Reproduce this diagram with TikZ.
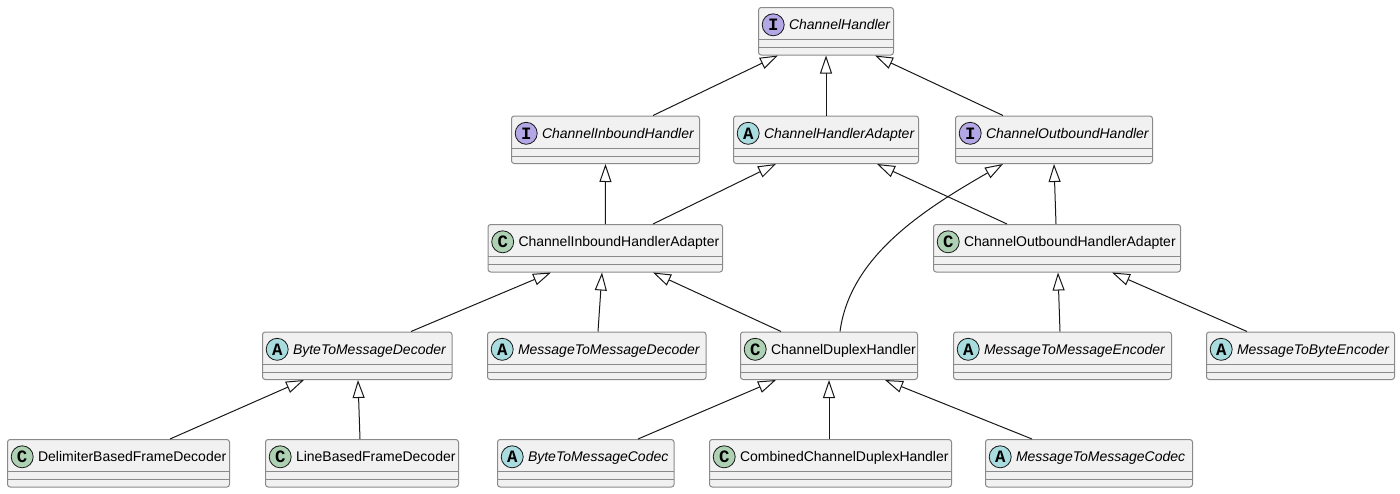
\documentclass[tikz,border=0pt]{standalone}
\usepackage{fontspec}
\setmainfont{Liberation Sans}
\newfontfamily\iconfont{Liberation Mono}
\usetikzlibrary{arrows.meta}
\definecolor{boxfill}{HTML}{F1F1F1}
\definecolor{boxline}{HTML}{8A8A8A}
\definecolor{edgeline}{HTML}{181818}
\definecolor{iconI}{HTML}{B4A7E5}
\definecolor{iconA}{HTML}{A9DCDF}
\definecolor{iconC}{HTML}{ADD1B2}
\newcommand{\upx}{0.75pt}
\tikzstyle{edgepath}=[draw=edgeline, line width=0.75pt, -{Triangle[length=13.5pt, width=9pt, fill=white]}]
\tikzset{
  classbox/.style n args={4}{draw=boxline, fill=boxfill, line width=0.75pt,
    rounded corners=2pt, anchor=north west, inner sep=0pt,
    minimum height=47.5*\upx, minimum width=#1*\upx,
    path picture={
      \draw[boxline, line width=0.75pt, sharp corners]
        ([yshift=-32*\upx]path picture bounding box.north west) -- ([yshift=-32*\upx]path picture bounding box.north east)
        ([yshift=-40*\upx]path picture bounding box.north west) -- ([yshift=-40*\upx]path picture bounding box.north east);
      \node[circle, anchor=center, draw=edgeline, line width=0.6pt, fill=#2,
        minimum width=0pt, minimum height=0pt, minimum size=22*\upx, inner sep=0pt,
        font=\iconfont\fontsize{13pt}{13pt}\selectfont\bfseries]
        at ([xshift=14.7*\upx, yshift=-17.3*\upx]path picture bounding box.north west) {#3};
      \node[anchor=base west, inner sep=0pt, minimum width=0pt, minimum height=0pt,
        font=\fontsize{10.5pt}{12pt}\selectfont]
        at ([xshift=30*\upx, yshift=-22.3*\upx]path picture bounding box.north west) {#4};
    }},
  iface/.style 2 args={classbox={#1}{iconI}{I}{\itshape #2}},
  abstr/.style 2 args={classbox={#1}{iconA}{A}{\itshape #2}},
  klass/.style 2 args={classbox={#1}{iconC}{C}{#2}}
}

\begin{document}
\begin{tikzpicture}[x=\upx, y=-\upx]
    \useasboundingbox (0,0) rectangle (1400,493);

    \node[iface={135}{ChannelHandler}] (ch) at (758,7) {};

    \node[iface={188}{ChannelInboundHandler}] (cih) at (511,115.5) {};
    \node[abstr={185}{ChannelHandlerAdapter}] (cha) at (733,115.5) {};
    \node[iface={197}{ChannelOutboundHandler}] (coh) at (955,115.5) {};

    \node[klass={234.5}{ChannelInboundHandlerAdapter}] (ciha) at (487.5,224) {};
    \node[klass={247}{ChannelOutboundHandlerAdapter}] (coha) at (933,224) {};

    \node[abstr={189.5}{ByteToMessageDecoder}] (btmd) at (262,331.5) {};
    \node[abstr={218.5}{MessageToMessageDecoder}] (mtmd) at (487,331.5) {};
    \node[klass={177}{ChannelDuplexHandler}] (cdh) at (740,331.5) {};
    \node[abstr={218}{MessageToMessageEncoder}] (mtme) at (953,331.5) {};
    \node[abstr={188}{MessageToByteEncoder}] (mtbe) at (1206,331.5) {};

    \node[klass={222}{DelimiterBasedFrameDecoder}] (dbfd) at (7,439) {};
    \node[klass={193}{LineBasedFrameDecoder}] (lbfd) at (265,439) {};
    \node[abstr={176.5}{ByteToMessageCodec}] (btmc) at (497,439) {};
    \node[klass={242}{CombinedChannelDuplexHandler}] (ccdh) at (709,439) {};
    \node[abstr={207}{MessageToMessageCodec}] (mtmc) at (985,439) {};

    \draw[edgepath] ([xshift=142*\upx]cih.north west) -- ([xshift=20*\upx]ch.south west);
    \draw[edgepath] (cha.north) -- ([xshift=68*\upx]ch.south west);
    \draw[edgepath] ([xshift=48*\upx]coh.north west) -- ([xshift=117*\upx]ch.south west);
    \draw[edgepath] (ciha.north) -- (cih.south);
    \draw[edgepath] ([xshift=165.5*\upx]ciha.north west) -- ([xshift=43*\upx]cha.south west);
    \draw[edgepath] ([xshift=74*\upx]coha.north west) -- ([xshift=144*\upx]cha.south west);
    \draw[edgepath] ([xshift=123*\upx]coha.north west) -- ([xshift=99*\upx]coh.south west);
    \draw[edgepath] ([xshift=149*\upx]btmd.north west) -- ([xshift=63.5*\upx]ciha.south west);
    \draw[edgepath] ([xshift=111*\upx]mtmd.north west) -- ([xshift=114.5*\upx]ciha.south west);
    \draw[edgepath] ([xshift=41*\upx]cdh.north west) -- ([xshift=165.5*\upx]ciha.south west);
    \draw[edgepath] ([xshift=107*\upx]mtme.north west) -- ([xshift=125*\upx]coha.south west);
    \draw[edgepath] ([xshift=41*\upx]mtbe.north west) -- ([xshift=179*\upx]coha.south west);
    \draw[edgepath] ([xshift=163*\upx]dbfd.north west) -- ([xshift=42*\upx]btmd.south west);
    \draw[edgepath] ([xshift=95*\upx]lbfd.north west) -- ([xshift=96*\upx]btmd.south west);
    \draw[edgepath] ([xshift=141*\upx]btmc.north west) -- ([xshift=36*\upx]cdh.south west);
    \draw[edgepath] ([xshift=120*\upx]ccdh.north west) -- ([xshift=89*\upx]cdh.south west);
    \draw[edgepath] ([xshift=47*\upx]mtmc.north west) -- ([xshift=145*\upx]cdh.south west);
    \draw[edgepath] ([xshift=100*\upx]cdh.north west)
        .. controls +(10,-75) and +(-80,46) .. ([xshift=48*\upx]coh.south west);
\end{tikzpicture}
\end{document}
